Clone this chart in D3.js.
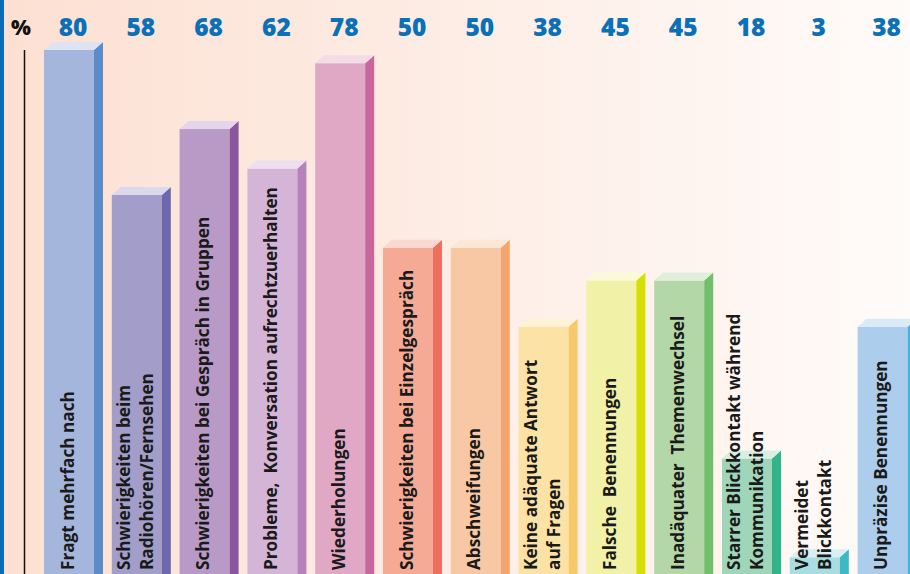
<!DOCTYPE html>
<html><head><meta charset="utf-8">
<script src="https://cdn.jsdelivr.net/npm/d3@7"></script>
<style>html,body{margin:0;padding:0;overflow:hidden;background:#fff}</style>
</head><body><svg id="c" width="910" height="574"></svg>
<script>
const categories = [
  ["Fragt mehrfach nach"],
  ["Schwierigkeiten beim", "Radiohören/Fernsehen"],
  ["Schwierigkeiten bei Gespräch in Gruppen"],
  ["Probleme,  Konversation aufrechtzuerhalten"],
  ["Wiederholungen"],
  ["Schwierigkeiten bei Einzelgespräch"],
  ["Abschweifungen"],
  ["Keine adäquate Antwort", "auf Fragen"],
  ["Falsche  Benennungen"],
  ["Inadäquater  Themenwechsel"],
  ["Starrer Blickkontakt während", "Kommunikation"],
  ["Vermeidet", "Blickkontakt"],
  ["Unpräzise Benennungen"]
];
const values = [80, 58, 68, 62, 78, 50, 50, 38, 45, 45, 18, 3, 38];
const frontColors = ["#a4b6dc","#a39ec9","#b99ac6","#d4b5d7","#e0a8c5","#f4aa95","#f8c8a4","#fde2a5","#f1f1a8","#b4d7a8","#9fd5b8","#a9dde1","#accdec"];
const sideColors  = ["#5b8bc9","#6a69ad","#89559c","#b583ba","#c9679d","#ec6f5f","#f4a56d","#f7c96b","#d6e000","#72bf6b","#33b38a","#3cb9c5","#42b3e9"];
const topColors   = ["#dde3f3","#dcd9ee","#e4d4ec","#eddff0","#f3dbe7","#fbd9d0","#fce6d5","#fef3d6","#fafad9","#e0efd9","#d9efe4","#d9f0f2","#dbeaf7"];
const unitLabel = "%";

const svg = d3.select("#c");
const W = 910, H = 574;
const defs = svg.append("defs");
const g = defs.append("linearGradient").attr("id","bg").attr("x1","0").attr("x2","1").attr("y1","0").attr("y2","0");
g.append("stop").attr("offset","0").attr("stop-color","#fde0d2");
g.append("stop").attr("offset","0.5").attr("stop-color","#fdede5");
g.append("stop").attr("offset","1").attr("stop-color","#fffbf9");
svg.append("rect").attr("width",W).attr("height",H).attr("fill","url(#bg)");
svg.append("rect").attr("x",0).attr("y",0).attr("width",4).attr("height",H).attr("fill","#0a6db5");

const idx = d3.range(values.length);
const x = d3.scaleBand().domain(idx).range([44, 907.6]).paddingInner(0.2625).paddingOuter(0);
const y = d3.scaleLinear().domain([0, 80]).range([577, 50]);
const dx = 9, dy = 8;

// axis line
svg.append("line").attr("x1",24.5).attr("x2",24.5).attr("y1",50).attr("y2",H).attr("stroke","#111").attr("stroke-width",1.5);
svg.append("text").attr("x",11).attr("y",35).text(unitLabel)
  .attr("font-family","Open Sans, sans-serif").attr("font-weight",800).attr("font-size",21).attr("fill","#111");

const bars = svg.append("g").selectAll("g").data(idx).join("g");
bars.append("rect").attr("x",i=>x(i)).attr("y",i=>y(values[i])).attr("width",x.bandwidth()).attr("height",i=>H+10-y(values[i])).attr("fill",i=>frontColors[i]);
bars.append("path").attr("d",i=>{const x0=x(i)+x.bandwidth(), y0=y(values[i]);return `M${x0},${y0}L${x0+dx},${y0-dy}L${x0+dx},${H+10}L${x0},${H+10}Z`;}).attr("fill",i=>sideColors[i]);
bars.append("path").attr("d",i=>{const x0=x(i), x1=x(i)+x.bandwidth(), y0=y(values[i]);return `M${x0},${y0}L${x0+dx},${y0-dy}L${x1+dx},${y0-dy}L${x1},${y0}Z`;}).attr("fill",i=>topColors[i]);

// value labels
svg.append("g").selectAll("text").data(idx).join("text")
  .attr("x",i=>x(i)+x.bandwidth()/2+4).attr("y",35.5).attr("text-anchor","middle")
  .attr("font-family","Open Sans, sans-serif").attr("font-weight",800).attr("font-size",24.5).attr("fill","#0a70b8")
  .text(i=>values[i]);

// category labels (rotated)
const lineH = 23;
const lab = svg.append("g").selectAll("g").data(idx).join("g");
lab.each(function(i){
  const lines = categories[i];
  const n = lines.length;
  const cx = x(i)+x.bandwidth()/2;
  lines.forEach((t,k)=>{
    const lx = cx + (k-(n-1)/2)*lineH + 4.5;
    d3.select(this).append("text")
      .attr("transform",`translate(${lx},570) rotate(-90)`)
      .attr("font-family","Open Sans, sans-serif").attr("font-weight",700).attr("font-size",17.2).attr("fill","#1a1a1a")
      .attr("xml:space","preserve")
      .style("white-space","pre")
      .text(t);
  });
});
</script></body></html>
